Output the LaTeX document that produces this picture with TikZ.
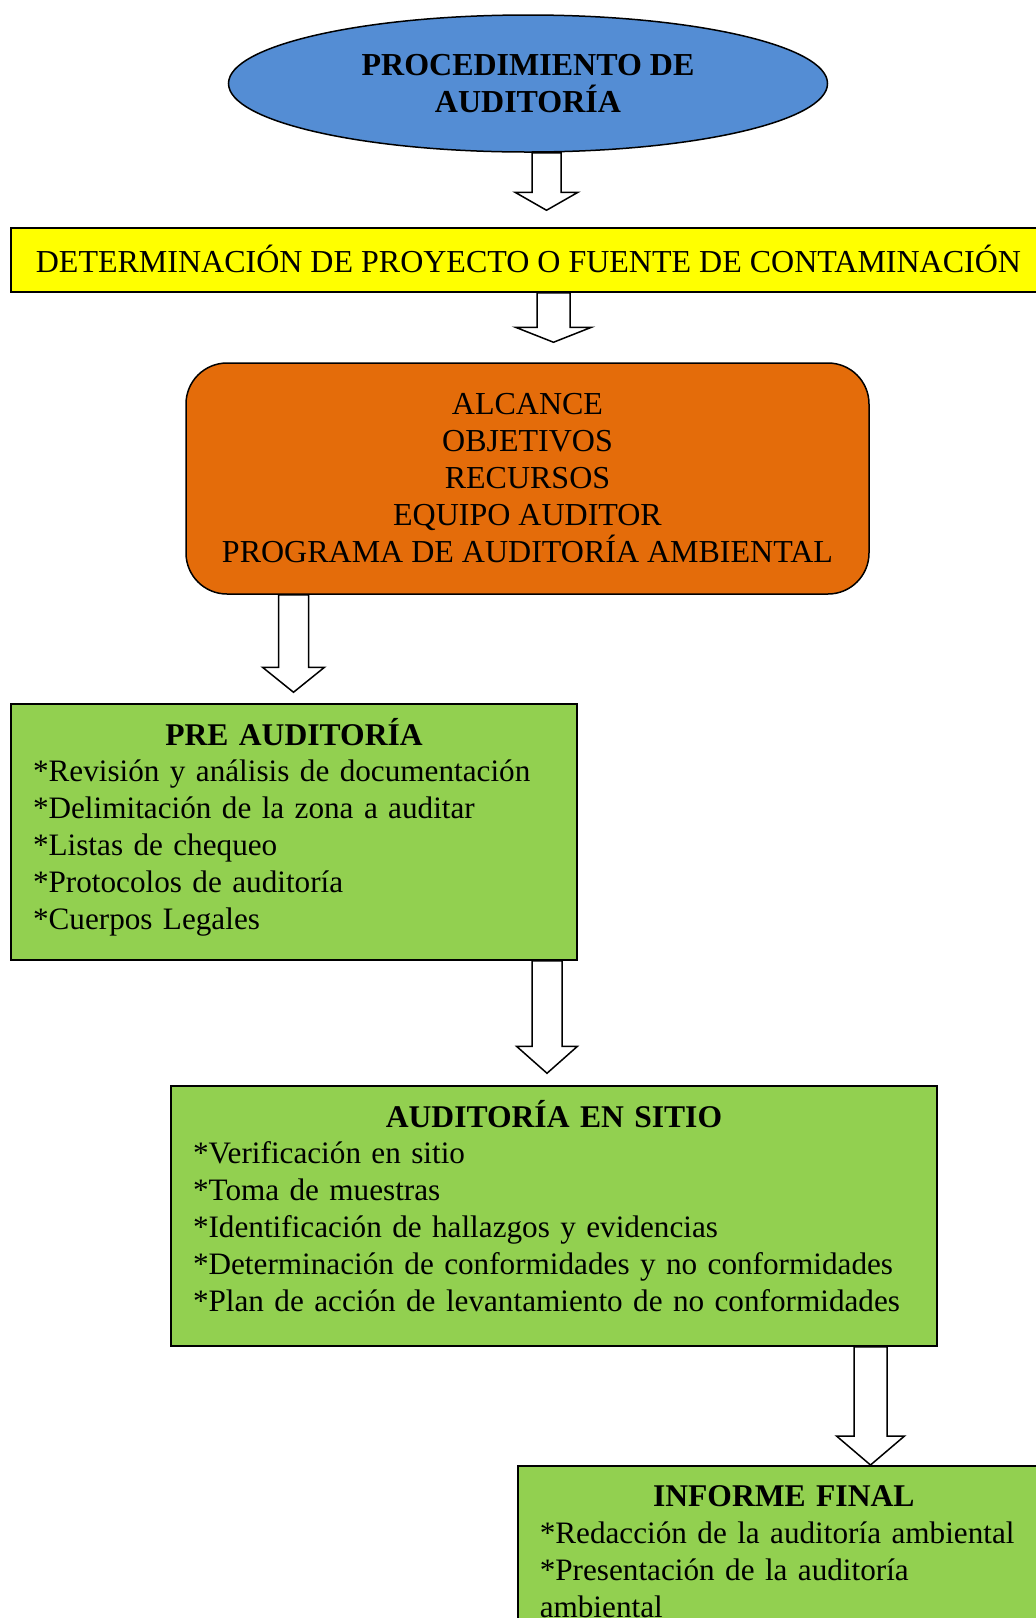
\documentclass[tikz,border=0pt]{standalone}
\usepackage{fontspec}
\setmainfont{Liberation Serif}
\usetikzlibrary{shapes.geometric,calc}
\definecolor{azulelipse}{RGB}{84,141,212}
\definecolor{amarillo}{RGB}{255,255,0}
\definecolor{naranja}{RGB}{228,108,10}
\definecolor{verde}{RGB}{146,208,80}

% hollow block arrow: x, from, to, gap, shaft half width, head half width, head length
\newcommand{\blockarrow}[7]{%
  \coordinate (s) at (#1,0 |- #2.south);
  \coordinate (t) at ($(#1,0 |- #3.north)+(0,-#4)$);
  \draw[flecha] ($(s)+(-#5,0)$) -- ($(t)+(-#5,-#7)$) -- ($(t)+(-#6,-#7)$) -- (t)
    -- ($(t)+(#6,-#7)$) -- ($(t)+(#5,-#7)$) -- ($(s)+(#5,0)$) -- cycle;}
% bold centred heading of a green box, and the depth below its last line
\newcommand{\tituloverde}[1]{{\centering\fontsize{15.8}{18.4}\selectfont\bfseries\rule{0pt}{16pt}#1\par}}
\newcommand{\finverde}[1]{\rule[-#1]{0pt}{#1}}

\begin{document}
\begin{tikzpicture}[x=0.5pt,y=-0.5pt,
  caja/.style={draw,line width=0.75pt,font=\fontsize{16}{18.5}\selectfont},
  verdecaja/.style={caja,fill=verde,inner xsep=11pt,inner ysep=4.5pt,align=left,font=\fontsize{15.6}{18.4}\selectfont},
  flecha/.style={draw,fill=white,line width=0.75pt,line join=miter}]
\useasboundingbox (0,0) rectangle (1036,1618);

\node[caja,ellipse,fill=azulelipse,minimum width=299.5pt,minimum height=68.5pt,inner sep=0pt,align=center,font=\fontsize{16}{18.5}\selectfont\bfseries] (titulo) at (528,83.5) {PROCEDIMIENTO DE\\AUDITORÍA};
\node[caja,fill=amarillo,minimum width=517.5pt,minimum height=32pt,inner sep=0pt,text height=12.6pt,text depth=0pt] (fuente) at (528.5,260) {DETERMINACIÓN DE PROYECTO O FUENTE DE CONTAMINACIÓN};
\node[caja,fill=naranja,rounded corners=20.5pt,minimum width=341.5pt,minimum height=115.5pt,align=center] (alcance) at (527.5,478.5) {ALCANCE\\OBJETIVOS\\RECURSOS\\EQUIPO AUDITOR\\PROGRAMA DE AUDITORÍA AMBIENTAL};

\node[verdecaja,minimum width=283pt,minimum height=128pt,text width=261pt] (pre) at (294,832) {\tituloverde{PRE AUDITORÍA}
*Revisión y análisis de documentación\par
*Delimitación de la zona a auditar\par
*Listas de chequeo\par
*Protocolos de auditoría\par
*Cuerpos Legales\finverde{11pt}};
\node[verdecaja,minimum width=383pt,minimum height=130pt,text width=361pt] (sitio) at (554,1216) {\tituloverde{AUDITORÍA EN SITIO}
*Verificación en sitio\par
*Toma de muestras\par
*Identificación de hallazgos y evidencias\par
*Determinación de conformidades y no conformidades\par
*Plan de acción de levantamiento de no conformidades\finverde{13pt}};
\node[verdecaja,anchor=north west,text width=244pt] (informe) at (517,1465) {\tituloverde{INFORME FINAL}
*Redacción de la auditoría ambiental\par
*Presentación de la auditoría\\ambiental};

\blockarrow{546.5}{titulo}{fuente}{17}{14.5}{31.5}{18}
\blockarrow{553.5}{fuente}{alcance}{20}{16.5}{38}{15}
\blockarrow{293.5}{alcance}{pre}{11}{15}{31}{25}
\blockarrow{547}{pre}{sitio}{12}{15}{30.5}{27}
\blockarrow{870.5}{sitio}{informe}{0}{16.5}{34}{29}
\end{tikzpicture}
\end{document}
